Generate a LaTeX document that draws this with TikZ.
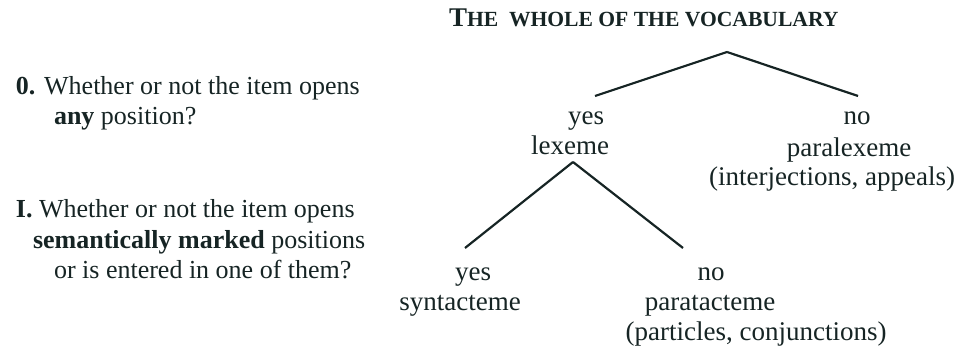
\documentclass[tikz,border=0pt]{standalone}
\usepackage{fontspec}
\setmainfont{Liberation Serif}
\usetikzlibrary{positioning}
\definecolor{cink}{HTML}{162424}
\tikzset{
  every picture/.style={line width=1pt},
  word/.style={font=\fontsize{13.5}{15}\selectfont, inner sep=0pt, anchor=base, text=cink},
  quest/.style={word, anchor=base west, font=\fontsize{13}{15}\selectfont},
  branch/.style={draw=cink, line width=1.1pt},
}
\begin{document}
\begin{tikzpicture}[x=0.5pt, y=-0.5pt]
  \useasboundingbox (0,0) rectangle (967,347);
  % title
  \node[quest] (title) at (448,27) {\textbf{\fontsize{13.5}{15}\selectfont T\fontsize{10.8}{12}\selectfont HE\ \ WHOLE OF THE VOCABULARY}};
  % questions on the left
  \node[quest] (q0a) at (15,95) {\textbf{0.} Whether or not the item opens};
  \node[quest] (q0b) at (53,125) {\textbf{any} position?};
  \node[quest] (q1a) at (15,217) {\textbf{I.} Whether or not the item opens};
  \node[quest] (q1b) at (32,248) {\textbf{semantically marked} positions};
  \node[quest] (q1c) at (53,278) {or is entered in one of them?};
  % first split
  \coordinate (top) at (727,52);
  \coordinate (topL) at (595,96);
  \coordinate (topR) at (858,96);
  \node[word] (yes0) at (586,125) {yes};
  \node[word] (lex) at (570,155) {lexeme};
  \node[word] (no0) at (857,125) {no};
  \node[word] (paralex) at (849,157) {paralexeme};
  \node[word] (interj) at (832,185) {(interjections, appeals)};
  % second split
  \coordinate (mid) at (573,162);
  \coordinate (midL) at (465,248);
  \coordinate (midR) at (683,248);
  \node[word] (yes1) at (473,280) {yes};
  \node[word] (syn) at (460,310) {syntacteme};
  \node[word] (no1) at (711,280) {no};
  \node[word] (parat) at (710,310) {paratacteme};
  \node[word] (partic) at (756,340) {(particles, conjunctions)};
  \foreach \a/\b in {top/topL, top/topR, mid/midL, mid/midR} \draw[branch] (\a) -- (\b);
\end{tikzpicture}
\end{document}
